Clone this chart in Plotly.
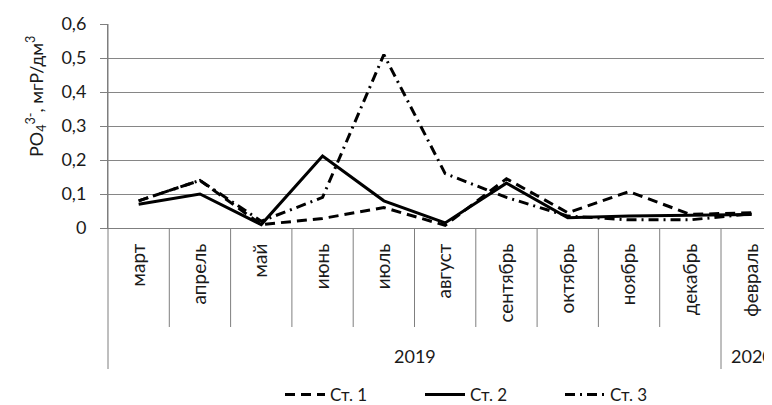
import plotly.graph_objs as go

months = ['март', 'апрель', 'май', 'июнь', 'июль', 'август', 'сентябрь',
          'октябрь', 'ноябрь', 'декабрь', 'февраль']
years = ['2019', '2020']
year_spans = [(0, 9), (10, 10)]  # first and last month index of each year

st1 = [0.08, 0.14, 0.01, 0.028, 0.06, 0.008, 0.145, 0.045, 0.107, 0.04, 0.045]
st2 = [0.07, 0.10, 0.01, 0.212, 0.08, 0.015, 0.132, 0.03, 0.035, 0.038, 0.04]
st3 = [0.08, 0.14, 0.02, 0.09, 0.51, 0.16, 0.09, 0.035, 0.024, 0.024, 0.042]

series = [
    ('Ст. 1', st1, dict(color='black', width=3, dash='10px,6px')),
    ('Ст. 2', st2, dict(color='black', width=3)),
    ('Ст. 3', st3, dict(color='black', width=3, dash='10px,5px,2px,5px')),
]

FONT = 'Lato, Calibri, sans-serif'
TXT = '#1a1a1a'
PAGE_OFF = 8            # default body margin of the html page
W, H = 772 - PAGE_OFF, 405 - PAGE_OFF
L, T = 108 - PAGE_OFF, 24 - PAGE_OFF
B = H - (228 - PAGE_OFF)
plot_h = H - T - B


def py(px):
    # screen pixel row -> paper y
    return (H - B - (px - PAGE_OFF)) / plot_h


def px_(sx):
    # screen pixel column -> paper x
    return (sx - PAGE_OFF - L) / (W - L)


fig = go.Figure()
for name, vals, line in series:
    fig.add_trace(go.Scatter(x=list(range(len(months))), y=vals, name=name,
                             mode='lines', line=line))

# category dividers
shapes = []
for i in range(len(months) - 1):
    is_year_break = any(i + 1 == s for s, _ in year_spans[1:])
    shapes.append(dict(type='line', xref='x', yref='paper', x0=i + 0.5, x1=i + 0.5,
                       y0=0, y1=py(369) if is_year_break else py(327),
                       line=dict(color='#7f7f7f', width=1)))
shapes.append(dict(type='line', xref='paper', yref='paper', x0=0, x1=0,
                   y0=py(369), y1=1, line=dict(color='#7f7f7f', width=1)))

annotations = []
for yr, (a, b) in zip(years, year_spans):
    annotations.append(dict(x=(a + b) / 2, y=py(356), xref='x', yref='paper',
                            yanchor='middle', text=yr, showarrow=False,
                            font=dict(size=18, color=TXT)))
annotations.append(dict(x=px_(21), y=py(97), xref='paper', yref='paper',
                        text='PO<sub>4</sub><sup>3-</sup>, мгР/дм<sup>3</sup>',
                        textangle=-90, showarrow=False, font=dict(size=18, color=TXT)))

fig.update_layout(
    width=W, height=H,
    margin=dict(l=L, r=0, t=T, b=B, autoexpand=False),
    plot_bgcolor='white', paper_bgcolor='white',
    separators=', ',
    font=dict(family=FONT, size=18, color=TXT),
    showlegend=True,
    legend=dict(orientation='h', x=px_(490), xanchor='center', y=py(395), yanchor='middle',
                font=dict(size=17), entrywidth=85, itemwidth=40),
    shapes=shapes,
    annotations=annotations,
)
fig.update_xaxes(
    range=[-0.5, -0.5 + (W - L) / 61.3],
    tickmode='array', tickvals=list(range(len(months))), ticktext=months,
    tickangle=-90, showgrid=False, zeroline=False, automargin=False,
    showline=True, linecolor='#7f7f7f', linewidth=1, tickfont=dict(size=19),
    ticks='', ticklabelstandoff=7,
)
fig.update_yaxes(
    range=[0, 0.6], dtick=0.1, showgrid=True, gridcolor='#868686', gridwidth=1,
    zeroline=False, showline=True, linecolor='#7f7f7f', automargin=False,
    ticks='outside', ticklen=7, tickcolor='#7f7f7f', ticklabelstandoff=10,
)

fig.write_html('out.html')
